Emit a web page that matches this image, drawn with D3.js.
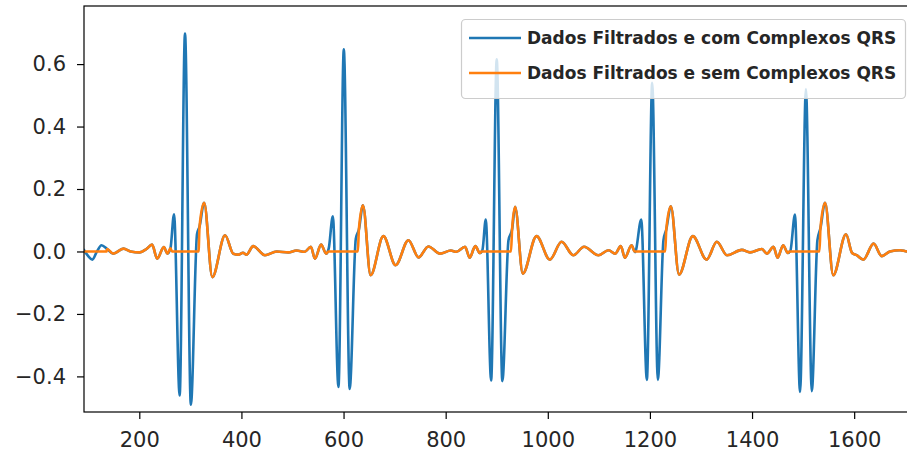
<!DOCTYPE html>
<html>
<head>
<meta charset="utf-8">
<script src="https://cdn.jsdelivr.net/npm/d3@7"></script>
<style>
body { margin: 0; background: #fff; }
text { font-family: "DejaVu Sans", sans-serif; }
</style>
</head>
<body>
<div id="chart-area"></div>
<script>
// tick values
var xTicks = [200, 400, 600, 800, 1000, 1200, 1400, 1600];
var yTicks = [-0.4, -0.2, 0.0, 0.2, 0.4, 0.6];

var seriesNames = ["Dados Filtrados e com Complexos QRS", "Dados Filtrados e sem Complexos QRS"];

// filtered signal with QRS complexes (sample index / amplitude)
var comX = [92, 100, 108, 117, 126, 137, 149, 169, 183, 201, 214, 225, 235, 248, 255, 261,
    268, 279, 289.5, 301, 313, 318, 327, 343, 368, 384, 395, 403, 410, 423, 446, 469, 492, 508, 524, 536, 544, 556, 566, 571,
    579, 590, 600.5, 612, 624, 630, 638, 653, 678, 702, 727, 747, 766, 789, 810, 821, 838, 847, 858, 867, 872,
    878.5, 889, 900, 911, 923, 930, 936, 951, 978, 1004, 1027, 1050, 1071, 1099, 1119, 1132, 1143, 1151, 1164, 1171,
    1183, 1194, 1204.5, 1215.5, 1226.5, 1232, 1241, 1257, 1284, 1311, 1331, 1351, 1380, 1396, 1419, 1429, 1442, 1450, 1461, 1470, 1475,
    1484, 1494, 1505.5, 1517, 1528, 1534, 1543, 1559, 1584, 1596, 1605, 1618, 1638, 1654, 1670, 1690, 1704, 1725];
var comY = [0.004, -0.015, -0.026, 0.0, 0.02, 0.008, -0.007, 0.009, 0.0, -0.003, 0.008, 0.022, -0.023, 0.014, -0.007, 0.01,
    0.119, -0.461, 0.698, -0.491, 0.055, 0.08, 0.156, -0.082, 0.052, -0.007, -0.01, -0.004, -0.01, 0.017, -0.012, 0.0, -0.003, 0.003, -0.001, 0.015, -0.023, 0.022, -0.007, 0.01,
    0.113, -0.434, 0.647, -0.44, 0.041, 0.07, 0.148, -0.076, 0.049, -0.044, 0.036, -0.019, 0.016, -0.007, 0.003, -0.001, 0.015, -0.02, 0.017, -0.005, 0.005,
    0.102, -0.413, 0.615, -0.415, 0.036, 0.07, 0.143, -0.071, 0.049, -0.026, 0.031, -0.012, 0.015, -0.012, 0.004, -0.007, 0.017, -0.02, 0.02, -0.002,
    0.102, -0.411, 0.54, -0.411, 0.036, 0.07, 0.145, -0.074, 0.049, -0.026, 0.031, -0.012, 0.005, -0.003, 0.008, -0.007, 0.015, -0.02, 0.02, -0.005, 0.002,
    0.118, -0.45, 0.52, -0.447, 0.036, 0.075, 0.156, -0.076, 0.055, -0.005, -0.012, -0.026, 0.025, -0.015, 0.0, 0.004, 0.0, 0.0];

// same signal with the QRS windows set to zero
var semX = [92, 136, 137, 149, 169, 183, 201, 214, 225, 235, 248, 255, 261, 264,
    316, 318, 327, 343, 368, 384, 395, 403, 410, 423, 446, 469, 492, 508, 524, 536, 544, 556, 566, 570,
    628, 630, 638, 653, 678, 702, 727, 747, 766, 789, 810, 821, 838, 847, 858, 867, 870,
    928, 930, 936, 951, 978, 1004, 1027, 1050, 1071, 1099, 1119, 1132, 1143, 1151, 1164, 1170,
    1230, 1232, 1241, 1257, 1284, 1311, 1331, 1351, 1380, 1396, 1419, 1429, 1442, 1450, 1461, 1470, 1473,
    1532, 1534, 1543, 1559, 1584, 1596, 1605, 1618, 1638, 1654, 1670, 1690, 1704, 1725];
var semY = [0.0, 0.0, 0.008, -0.007, 0.009, 0.0, -0.003, 0.008, 0.022, -0.023, 0.014, -0.007, 0.01, 0.0,
    0.0, 0.08, 0.156, -0.082, 0.052, -0.007, -0.01, -0.004, -0.01, 0.017, -0.012, 0.0, -0.003, 0.003, -0.001, 0.015, -0.023, 0.022, -0.007, 0.0,
    0.0, 0.07, 0.148, -0.076, 0.049, -0.044, 0.036, -0.019, 0.016, -0.007, 0.003, -0.001, 0.015, -0.02, 0.017, -0.005, 0.0,
    0.0, 0.07, 0.143, -0.071, 0.049, -0.026, 0.031, -0.012, 0.015, -0.012, 0.004, -0.007, 0.017, -0.02, 0.02, 0.0,
    0.0, 0.07, 0.145, -0.074, 0.049, -0.026, 0.031, -0.012, 0.005, -0.003, 0.008, -0.007, 0.015, -0.02, 0.02, -0.005, 0.0,
    0.0, 0.075, 0.156, -0.076, 0.055, -0.005, -0.012, -0.026, 0.025, -0.015, 0.0, 0.004, 0.0, 0.0];

var colors = ["#1f77b4", "#ff7f0e"];

var width = 907;
var height = 455;
var plot = {left: 84, right: 918, top: 6, bottom: 412};

var svg = d3.select("#chart-area").append("svg")
    .attr("width", width)
    .attr("height", height);

var x = d3.scaleLinear()
    .domain([91.7, 1725])
    .range([plot.left, plot.right]);

var y = d3.scaleLinear()
    .domain([-0.514, 0.786])
    .range([plot.bottom, plot.top]);

svg.append("clipPath")
    .attr("id", "clip")
  .append("rect")
    .attr("x", plot.left)
    .attr("y", plot.top)
    .attr("width", plot.right - plot.left)
    .attr("height", plot.bottom - plot.top);

var line = d3.line()
    .x((d) => x(d[0]))
    .y((d) => y(d[1]))
    .curve(d3.curveMonotoneX);

var series = [d3.zip(comX, comY), d3.zip(semX, semY)];

svg.append("g")
    .attr("clip-path", "url(#clip)")
  .selectAll("path")
  .data(series)
  .enter()
  .append("path")
    .attr("d", line)
    .attr("fill", "none")
    .attr("stroke", (d, i) => colors[i])
    .attr("stroke-width", 2.6)
    .attr("stroke-linejoin", "round")
    .attr("stroke-linecap", "square");

// axes
var bottomAxis = d3.axisBottom(x)
    .tickValues(xTicks)
    .tickFormat(d3.format("d"))
    .tickSize(7)
    .tickPadding(13);
var gx = svg.append("g")
    .attr("transform", "translate(0," + plot.bottom + ")")
    .call(bottomAxis);

var leftAxis = d3.axisLeft(y)
    .tickValues(yTicks)
    .tickFormat(d3.format(".1f"))
    .tickSize(7)
    .tickPadding(11);
var gy = svg.append("g")
    .attr("transform", "translate(" + plot.left + ",0)")
    .call(leftAxis);

[gx, gy].forEach((g) => {
    g.select(".domain").remove();
    g.selectAll("line").attr("stroke", "#000").attr("stroke-width", 1.2);
    g.selectAll("text")
        .attr("fill", "#262626")
        .style("font-family", "'DejaVu Sans', sans-serif")
        .style("font-size", "21px");
});

// frame
svg.append("rect")
    .attr("x", plot.left)
    .attr("y", plot.top)
    .attr("width", plot.right - plot.left)
    .attr("height", plot.bottom - plot.top)
    .attr("fill", "none")
    .attr("stroke", "#000")
    .attr("stroke-width", 1.2);

// legend
var legend = svg.append("g");
legend.append("rect")
    .attr("x", 461.5)
    .attr("y", 19.5)
    .attr("width", 444)
    .attr("height", 79)
    .attr("rx", 4)
    .attr("fill", "#fff")
    .attr("fill-opacity", 0.8)
    .attr("stroke", "#cccccc")
    .attr("stroke-width", 1.2);

var rows = legend.selectAll("g.row")
    .data(seriesNames)
    .enter()
    .append("g")
    .attr("class", "row")
    .attr("transform", (d, i) => "translate(0," + (38 + i * 35) + ")");

rows.append("line")
    .attr("x1", 469)
    .attr("x2", 521)
    .attr("stroke", (d, i) => colors[i])
    .attr("stroke-width", 2.6);

rows.append("text")
    .attr("x", 527)
    .attr("y", 6)
    .attr("fill", "#262626")
    .style("font-size", "17px")
    .style("font-weight", "bold")
    .text((d) => d);
</script>
</body>
</html>
